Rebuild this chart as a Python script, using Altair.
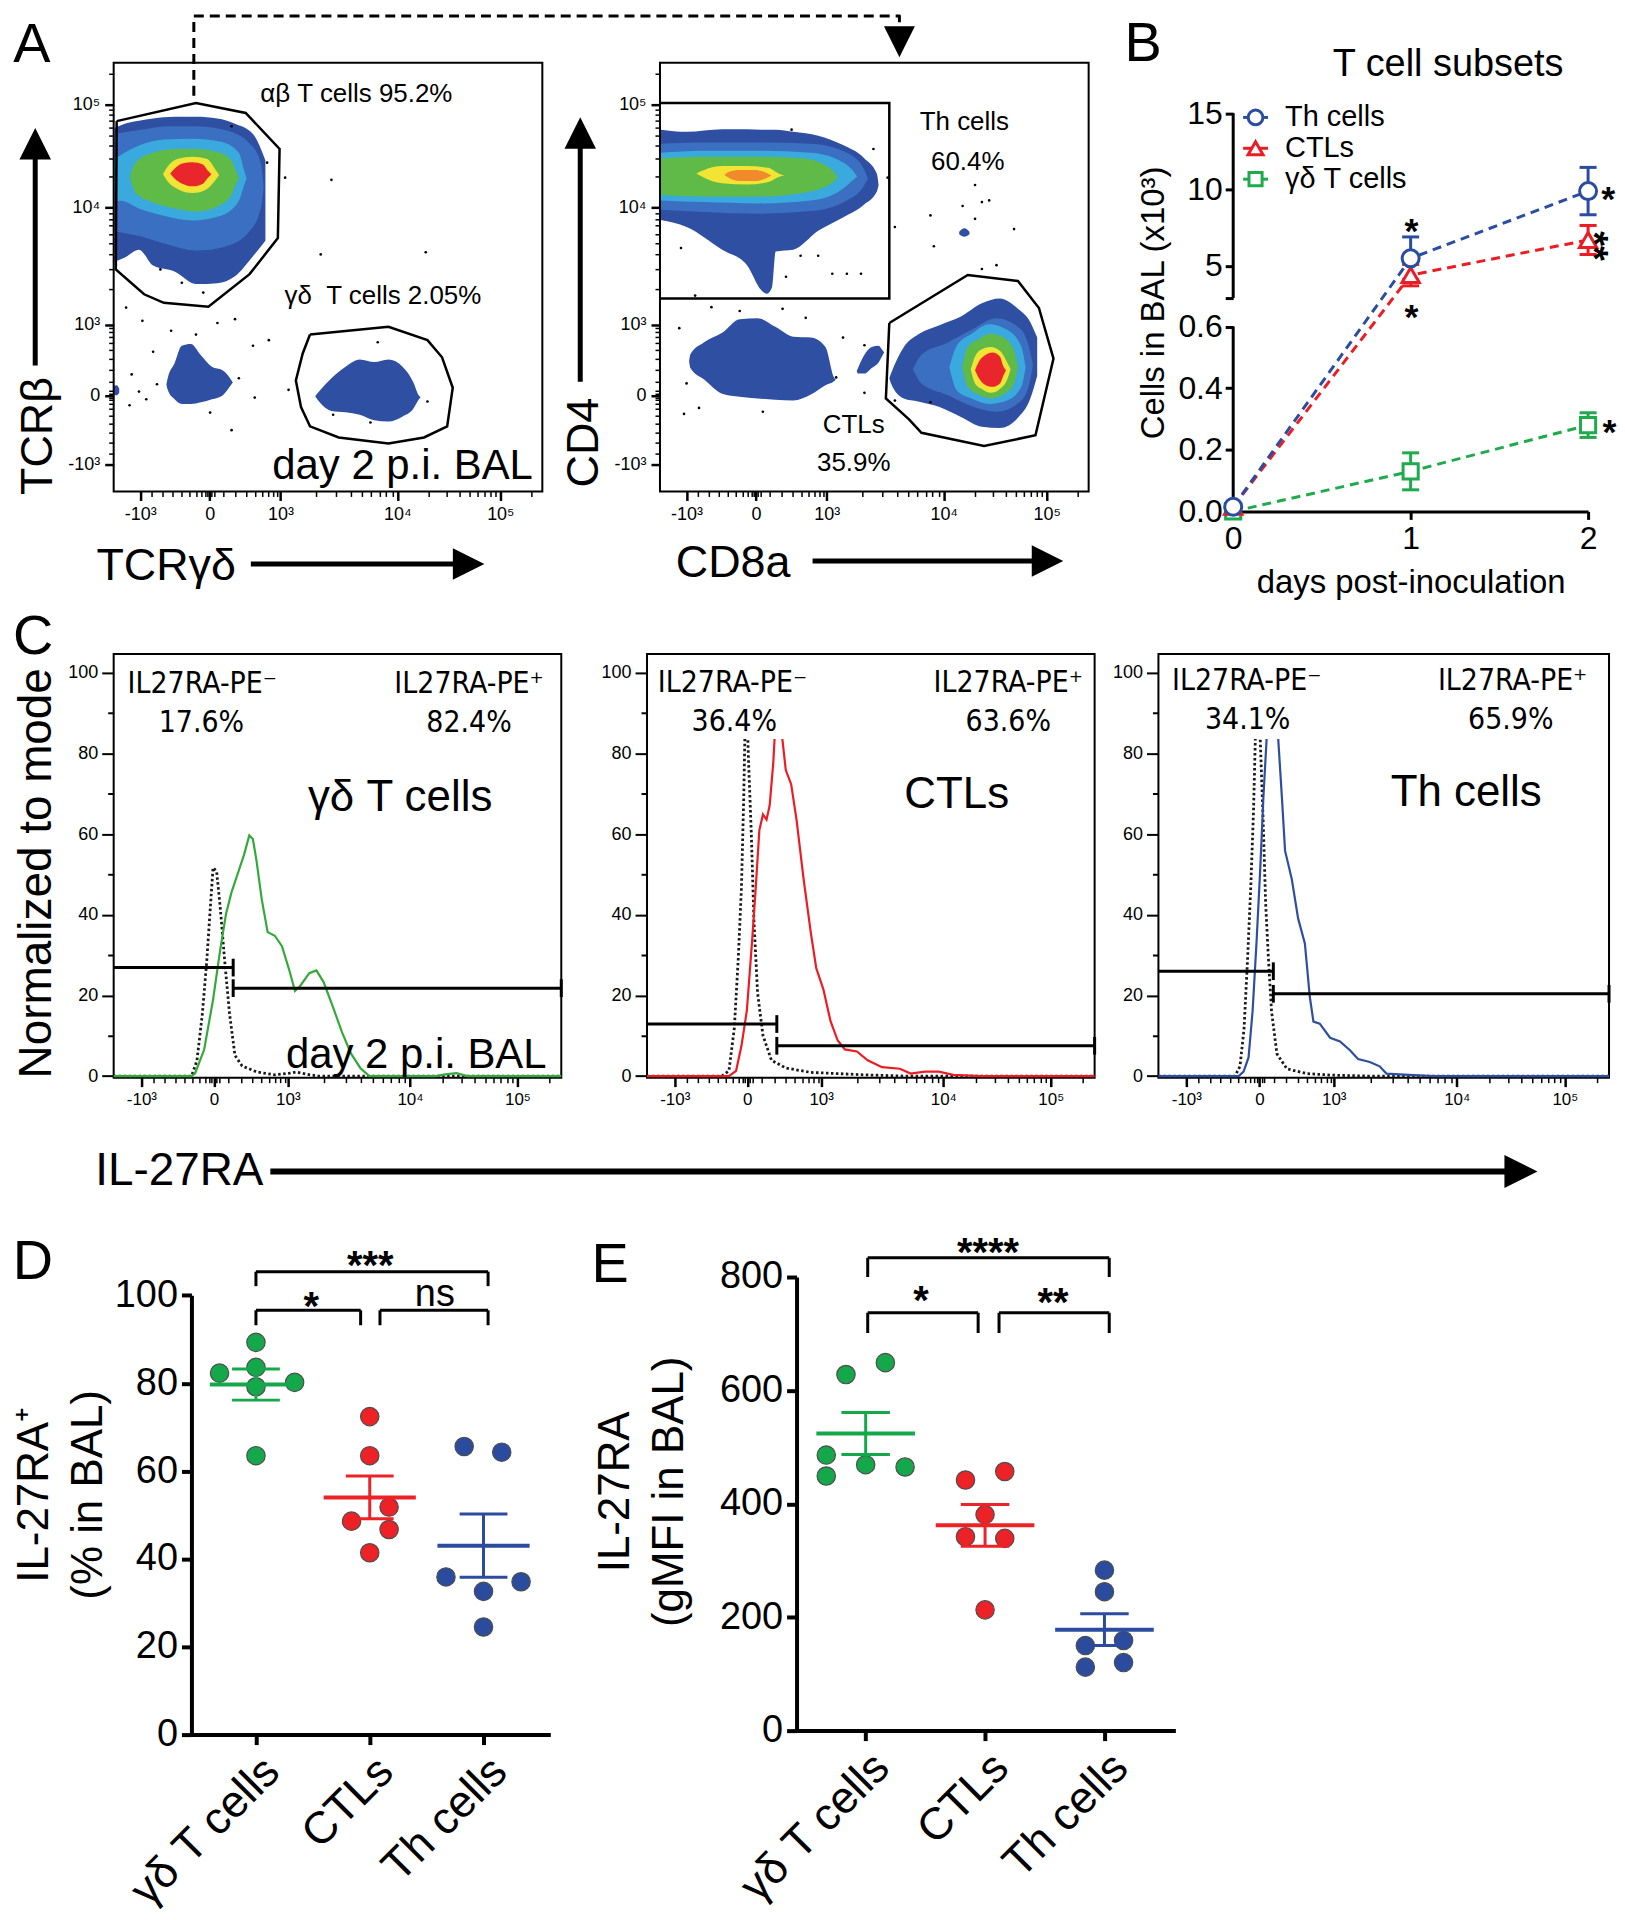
import altair as alt
import pandas as pd

FONT = "Liberation Sans"
NARROW = "Liberation Sans Narrow, DejaVu Sans Condensed, Liberation Sans"

# ======================= DATA =======================
# ---- biexponential flow axis, display scale = % of axis length ----
FLOW_MAJOR = [6.2, 22.4, 38.9, 66.2, 90.2]
FLOW_LABELS = ["-10³", "0", "10³", "10⁴", "10⁵"]
FLOW_MINOR = [8.8, 11.4, 13.8, 15.9, 17.7, 19.2, 20.4, 21.3, 21.9, 22.9, 23.5, 25.6,
              28.4, 30.9, 33.0, 34.7, 36.1, 37.3, 38.2, 47.1, 51.9, 55.3, 58.0, 60.1,
              62.0, 63.6, 65.0, 73.4, 77.7, 80.6, 83.0, 84.9, 86.5, 87.9, 89.1, 97.4]
DENS_COLORS = ["#2f4fa3", "#3b6fc1", "#3aa9dd", "#5fba47", "#f2e434", "#e8262b"]
TH_CORE = "#f08a2a"

# ---- Panel A1: TCRgd (x) vs TCRb (y); density levels (x, upper, lower) ----
A1_AB1_X = [0.2, 2.6, 5.9, 9.2, 14.2, 19.2, 24.2, 28.3, 32.5, 35.4]
A1_AB1_T = [84.8, 85.8, 86.5, 87.0, 87.4, 87.4, 87.0, 85.8, 83.4, 77.2]
A1_AB1_B = [53.6, 54.6, 56.4, 52.7, 51.3, 48.4, 48.6, 50.2, 54.9, 58.5]
A1_AB2_X = [0.2, 5.9, 12.6, 19.2, 25.9, 31.7, 34.3, 35.0]
A1_AB2_T = [83.4, 84.3, 85.2, 85.2, 84.3, 81.2, 76.7, 71.0]
A1_AB2_B = [60.7, 59.6, 57.6, 56.2, 57.1, 60.7, 66.0, 71.0]
A1_AB3_X = [0.2, 1.7, 5.9, 11.7, 18.4, 25.0, 29.2, 30.4, 31.0]
A1_AB3_T = [77.5, 78.5, 80.7, 82.1, 82.3, 81.6, 79.0, 75.0, 73.0]
A1_AB3_B = [67.5, 67.8, 66.0, 64.3, 63.2, 64.3, 67.8, 71.4, 73.0]
A1_AB4_X = [3.8, 5.1, 9.2, 14.2, 19.2, 24.2, 27.5, 28.8, 29.3]
A1_AB4_T = [73.5, 76.7, 79.0, 79.9, 79.9, 79.2, 77.2, 74.1, 73.0]
A1_AB4_B = [73.5, 69.6, 67.4, 66.0, 65.3, 66.5, 69.2, 72.3, 73.0]
A1_AB5_X = [11.5, 12.6, 15.0, 18.4, 21.7, 23.8, 24.6]
A1_AB5_T = [74.0, 75.8, 77.6, 78.1, 77.6, 75.0, 73.8]
A1_AB5_B = [74.0, 72.3, 70.5, 69.6, 70.5, 72.7, 73.8]
A1_AB6_X = [13.2, 14.2, 16.0, 18.4, 20.8, 22.0, 22.8]
A1_AB6_T = [74.2, 75.3, 76.5, 76.8, 76.3, 74.8, 74.0]
A1_AB6_B = [74.2, 73.0, 71.8, 71.2, 71.8, 73.2, 74.0]
A1_GD_X = [47.0, 47.9, 50.8, 54.1, 57.4, 60.8, 64.1, 67.4, 69.9, 71.2, 71.6]
A1_GD_T = [22.2, 23.3, 26.4, 29.1, 30.8, 30.2, 30.8, 29.1, 25.5, 22.4, 22.0]
A1_GD_B = [22.2, 21.0, 18.8, 18.5, 17.9, 16.6, 16.3, 17.5, 19.3, 21.5, 22.0]
A1_DN_X = [12.3, 12.6, 14.2, 15.9, 18.0, 20.4, 22.9, 25.4, 27.5, 27.8]
A1_DN_T = [25.0, 26.4, 29.9, 34.0, 34.4, 31.7, 29.1, 28.3, 25.9, 25.4]
A1_DN_B = [25.0, 23.7, 21.5, 20.4, 20.4, 20.8, 21.5, 22.4, 25.0, 25.4]
A1_EDGE_X = [0.0, 0.7, 1.3]
A1_EDGE_T = [24.6, 24.8, 24.0]
A1_EDGE_B = [22.6, 22.4, 23.0]
A1_GATE_AB = [(0.7, 86.4), (19.2, 90.6), (30.8, 88.3), (38.7, 79.9), (38.3, 59.1), (31.7, 50.7),
              (22.1, 43.1), (11.7, 44.0), (7.1, 46.0), (0.5, 51.8), (0.7, 86.4)]
A1_GATE_GD = [(45.8, 36.6), (64.1, 38.4), (73.2, 35.3), (76.6, 31.3), (79.1, 24.2), (77.8, 15.2),
              (72.4, 12.6), (64.1, 11.2), (52.5, 12.6), (45.8, 15.2), (43.7, 19.7), (42.5, 25.9),
              (44.1, 32.2), (45.8, 36.6)]
A1_DOT_X = [27.5, 40.0, 50.8, 48.3, 72.8, 2.9, 6.7, 9.2, 4.2, 5.9, 3.7, 7.6, 13.4, 19.2, 24.2, 28.3,
            32.5, 36.2, 29.2, 32.9, 40.8, 27.5, 22.5, 10.1, 61.6, 73.2, 51.2, 59.9, 20.9, 15.9, 10.9, 35.8]
A1_DOT_Y = [85.2, 73.2, 72.7, 55.3, 55.8, 42.9, 39.8, 32.6, 27.3, 23.3, 20.1, 21.5, 37.5, 36.6, 39.3, 40.2,
            34.0, 35.3, 26.4, 21.9, 23.7, 14.3, 18.4, 25.0, 34.8, 21.0, 17.9, 16.1, 46.4, 48.7, 51.8, 76.7]
A1_TXT = ["αβ T cells 95.2%", "γδ\u00a0 T cells 2.05%"]
A1_TXT_X = [56.6, 62.8]
A1_TXT_Y = [92.8, 45.5]

# ---- Panel A2: CD8a (x) vs CD4 (y) ----
A2_TH1_X = [0.2, 6.2, 14.5, 20.3, 23.6, 24.9, 26.1, 27.0, 31.1, 36.9, 42.7, 47.7, 50.6, 51.0]
A2_TH1_T = [84.4, 83.9, 84.5, 84.5, 84.4, 84.4, 84.4, 84.4, 83.9, 83.0, 80.8, 77.7, 74.1, 71.5]
A2_TH1_B = [63.3, 61.7, 56.4, 52.8, 47.0, 46.1, 47.5, 56.0, 56.4, 60.8, 63.9, 67.0, 70.0, 71.5]
A2_TH2_X = [0.2, 10.3, 22.8, 35.2, 43.6, 47.7, 48.5]
A2_TH2_T = [81.1, 81.4, 81.4, 81.1, 79.0, 75.0, 73.0]
A2_TH2_B = [65.7, 65.2, 64.8, 65.4, 67.9, 71.5, 73.0]
A2_TH3_X = [0.2, 10.3, 22.8, 35.2, 41.9, 45.2, 46.0]
A2_TH3_T = [79.0, 79.5, 79.5, 79.0, 77.2, 74.6, 73.5]
A2_TH3_B = [67.9, 67.5, 67.2, 67.9, 70.1, 72.8, 73.5]
A2_TH4_X = [0.2, 10.3, 22.8, 33.6, 40.2, 41.5]
A2_TH4_T = [77.7, 78.1, 78.1, 77.7, 75.0, 73.3]
A2_TH4_B = [69.2, 68.8, 68.8, 69.7, 72.0, 73.3]
A2_TH5_X = [8.5, 10.3, 14.5, 20.3, 25.3, 27.8, 29.0]
A2_TH5_T = [74.2, 75.0, 75.9, 75.9, 75.5, 74.1, 73.7]
A2_TH5_B = [74.2, 73.2, 71.9, 71.6, 72.2, 73.4, 73.7]
A2_TH6_X = [15.0, 16.1, 18.6, 21.9, 24.9, 26.0]
A2_TH6_T = [73.8, 74.6, 75.0, 75.0, 74.3, 73.7]
A2_TH6_B = [73.8, 73.1, 72.4, 72.4, 73.1, 73.7]
A2_DN_X = [6.8, 7.1, 10.3, 14.5, 18.6, 22.8, 26.9, 31.1, 35.2, 38.6, 40.6, 41.0]
A2_DN_T = [30.4, 32.0, 34.8, 37.0, 40.2, 40.4, 38.4, 36.1, 35.9, 33.7, 26.6, 26.1]
A2_DN_B = [30.4, 28.8, 26.1, 22.8, 22.1, 21.7, 21.4, 21.2, 22.6, 24.8, 25.7, 26.1]
A2_SM_X = [45.9, 46.2, 47.7, 49.4, 51.0, 52.0, 52.3]
A2_SM_T = [28.1, 28.8, 31.9, 33.7, 34.0, 32.8, 32.4]
A2_SM_B = [28.1, 27.5, 27.5, 28.8, 30.1, 31.9, 32.4]
A2_TINY_X = [69.8, 71.0, 72.2]
A2_TINY_T = [60.6, 61.4, 60.6]
A2_TINY_B = [60.0, 59.4, 60.0]
A2_CTL1_X = [53.5, 53.9, 56.9, 60.2, 65.2, 70.2, 75.1, 79.3, 83.5, 86.4, 88.0]
A2_CTL1_T = [26.4, 27.5, 33.7, 36.6, 38.8, 40.8, 43.9, 45.0, 42.6, 39.5, 35.9]
A2_CTL1_B = [26.4, 25.2, 21.7, 21.0, 19.7, 17.4, 15.1, 14.8, 17.2, 21.7, 27.0]
A2_CTL2_X = [59.0, 61.0, 66.8, 72.7, 78.5, 84.3, 86.4, 87.0]
A2_CTL2_T = [28.5, 31.9, 34.6, 37.7, 40.4, 37.7, 32.4, 29.5]
A2_CTL2_B = [28.5, 25.2, 22.6, 19.9, 18.6, 21.2, 26.1, 29.5]
A2_CTL3_X = [67.5, 69.3, 72.7, 76.8, 81.0, 84.3, 85.3]
A2_CTL3_T = [29.0, 34.1, 36.8, 39.0, 37.7, 33.7, 29.0]
A2_CTL3_B = [29.0, 23.5, 21.7, 20.4, 21.2, 24.4, 29.0]
A2_CTL4_X = [70.5, 71.8, 74.3, 77.2, 80.1, 82.6, 83.5]
A2_CTL4_T = [29.0, 33.7, 35.5, 36.8, 35.9, 32.8, 29.0]
A2_CTL4_B = [29.0, 24.4, 22.6, 21.7, 22.6, 25.2, 29.0]
A2_CTL5_X = [72.5, 73.5, 75.1, 77.2, 79.3, 81.0, 81.8]
A2_CTL5_T = [28.5, 31.5, 33.2, 33.7, 32.8, 30.1, 28.5]
A2_CTL5_B = [28.5, 25.2, 23.9, 23.0, 23.9, 26.1, 28.5]
A2_CTL6_X = [73.5, 74.3, 76.0, 77.6, 79.3, 80.1, 80.7]
A2_CTL6_T = [28.3, 30.1, 31.9, 32.4, 31.5, 29.2, 28.3]
A2_CTL6_B = [28.3, 26.6, 24.8, 24.4, 25.2, 27.0, 28.3]
A2_GATE_TH = [(0.0, 90.6), (53.5, 90.6), (53.5, 45.0), (0.0, 45.0)]
A2_GATE_CTL = [(53.5, 39.3), (71.8, 50.5), (83.5, 49.1), (88.4, 42.8), (91.8, 31.0), (87.6, 13.1),
               (75.6, 10.6), (61.0, 13.7), (58.1, 16.8), (52.7, 21.7), (53.5, 39.3)]
A2_DOT_X = [30.7, 49.8, 53.1, 73.5, 75.1, 76.8, 70.6, 73.5, 63.1, 82.6, 63.9, 54.8, 75.1, 78.5, 32.8,
            36.9, 29.4, 40.2, 43.6, 46.9, 4.9, 8.2, 4.5, 6.2, 5.6, 9.1, 12.0, 18.6, 28.6, 34.0, 42.7,
            47.7, 41.1, 47.7, 63.1, 54.8, 24.0]
A2_DOT_Y = [84.4, 79.9, 73.2, 71.5, 67.5, 67.9, 66.6, 63.6, 64.4, 61.2, 57.2, 61.7, 51.9, 52.8, 55.0,
            55.0, 50.1, 50.8, 50.8, 50.8, 56.8, 45.7, 38.1, 25.2, 18.1, 19.5, 43.0, 42.1, 42.6, 40.5,
            35.9, 34.1, 26.6, 23.0, 20.8, 21.2, 18.6]
A2_TXT = ["Th cells", "60.4%", "CTLs", "35.9%"]
A2_TXT_X = [71.0, 71.8, 45.2, 45.2]
A2_TXT_Y = [86.1, 76.8, 15.5, 6.6]

# ---- Panel B: cells in BAL (x10^3) ----
B_DAYS = [0, 1, 2]
B_SERIES = ["γδ T cells", "CTLs", "Th cells"]
B_COLORS = ["#1faa4b", "#ec1c24", "#2a4da1"]
B_SHAPES = ["square", "triangle-up", "circle"]
B_SIZES = [230, 300, 290]
B_MEAN = [[0.0, 0.13, 0.28], [0.015, 4.4, 6.7], [0.015, 5.5, 9.9]]
B_SEM = [[0.0, 0.06, 0.04], [0.0, 0.7, 0.95], [0.0, 1.4, 1.55]]
B_STAR_X = [1.005, 1.005, 2.113, 2.12]
B_STAR_Y = [7.85, 2.07, 9.96, 0.288]
B_STAR2_X = [2.08]
B_STAR2_Y = [6.3]
B_LEG_ORDER = ["Th cells", "CTLs", "γδ T cells"]
B_LEG_Y = [14.72, 12.7, 10.68]

# ---- Panel C: IL-27RA histograms (x: display %, y: % of mode) ----
C1_X = [0, 17.4, 18.2, 20.2, 22.2, 23.8, 25.1, 26.3, 27.9, 29.1, 30.3, 31.1, 31.9, 33.1, 34.4, 36.0,
        37.6, 39.3, 40.5, 41.7, 43.7, 45.3, 46.9, 49.0, 51.0, 53.0, 55.1, 57.1, 72.0, 74.1, 76.6, 79.0, 100]
C1_Y = [0, 0, 0.7, 6.5, 18.9, 31.3, 40.2, 45.5, 50.8, 54.8, 59.7, 58.8, 53.5, 43.7, 35.7, 34.8,
        32.2, 26.0, 21.1, 22.4, 25.5, 26.2, 23.3, 17.1, 10.9, 5.6, 2.0, 0, 0, 0.4, 0.7, 0, 0]
C1_ISO_X = [0, 17.4, 18.6, 19.8, 20.8, 21.6, 22.2, 23.0, 23.8, 24.8, 25.9, 27.1, 28.7, 32.0, 36.0,
            39.3, 40.9, 43.3, 45.7, 100]
C1_ISO_Y = [0, 0, 3.8, 15.3, 28.6, 41.9, 51.7, 50.8, 41.9, 28.6, 15.3, 5.1, 2.5, 1.0, 0.3,
            0.7, 1.0, 0.4, 0, 0]
C2_X = [0, 18.3, 19.9, 21.1, 22.3, 23.5, 24.3, 25.1, 25.9, 26.7, 27.4, 28.2, 29.2, 30.0, 31.0, 32.2,
        33.4, 35.0, 36.6, 37.8, 39.4, 41.0, 42.6, 44.2, 46.9, 49.3, 52.5, 56.5, 58.9, 62.1, 65.2, 68.4, 74.8, 100]
C2_Y = [0, 0, 1.3, 7.5, 16.2, 33.8, 46.9, 61.0, 64.9, 63.6, 67.1, 77.6, 98, 86, 75.9, 72.4,
        63.6, 48.7, 35.5, 26.8, 21.5, 13.6, 8.8, 6.6, 6.1, 3.9, 2.2, 1.8, 0.6, 1.1, 1.1, 0.3, 0, 0]
C2_ISO_X = [0, 16.7, 18.3, 19.5, 20.4, 21.1, 21.6, 22.1, 22.7, 23.3, 23.9, 24.7, 25.9, 27.8, 31.0,
            36.6, 48.5, 57.3, 100]
C2_ISO_Y = [0, 0, 1.3, 11.8, 29.4, 46.9, 68.9, 98, 77.6, 60.1, 38.2, 20.6, 10.1, 3.9, 2.0,
            0.9, 0.3, 0, 0]
C3_X = [0, 17.8, 18.9, 20.0, 20.9, 21.8, 22.6, 23.3, 24.0, 24.8, 25.8, 26.6, 27.4, 28.1, 29.6, 31.0,
        32.5, 33.6, 34.4, 35.8, 38.1, 40.3, 42.5, 44.3, 46.9, 49.1, 50.6, 53.5, 60.9, 100]
C3_Y = [0, 0, 1.1, 4.6, 16.1, 33.8, 51.5, 69.2, 83.4, 100, 92, 83.4, 69.2, 55.9, 48.8, 39.1,
        32.9, 19.6, 13.5, 13.0, 9.5, 8.6, 6.4, 4.2, 3.5, 2.4, 0.6, 0.4, 0, 0]
C3_ISO_X = [0, 17.0, 18.1, 19.0, 19.8, 20.5, 21.1, 21.5, 22.0, 22.6, 23.2, 23.8, 24.4, 25.1, 26.3,
            28.5, 32.9, 38.8, 46.2, 100]
C3_ISO_Y = [0, 0, 2.4, 11.7, 29.4, 47.1, 65.7, 83.4, 100, 83.4, 64.8, 42.7, 29.4, 16.1, 5.5,
            1.8, 0.6, 0.2, 0, 0]
C_COLORS = ["#34a83a", "#ec1c24", "#2e4fa0"]
C_GATE_SPLIT = [26.7, 29.0, 25.5]
C_GATE_NEG_Y = [26.9, 12.9, 26.0]
C_GATE_POS_Y = [21.8, 7.5, 20.4]
C_NEG_PCT = ["17.6%", "36.4%", "34.1%"]
C_POS_PCT = ["82.4%", "63.6%", "65.9%"]
C_LBL_X = [[19.8, 19.6, 79.4, 79.4], [19.1, 19.5, 80.7, 80.7], [19.6, 19.8, 78.6, 78.2]]
C_LBL_Y = [[97.3, 87.6, 97.3, 87.6], [97.4, 87.7, 97.4, 87.7], [97.9, 88.2, 97.9, 88.2]]
C_NAMES = ["γδ T cells", "CTLs", "Th cells"]
C_NAME_X = [64.0, 69.2, 68.3]
C_NAME_Y = [69.0, 69.7, 70.1]
C_BOX = [None, (8, 33, 83.6, 103), (8, 30, 83.6, 103)]

# ---- Panels D and E ----
GROUPS = ["γδ T cells", "CTLs", "Th cells"]
DOT_COLORS = ["#14a84a", "#ec2227", "#2b4c9e"]
D_OFF = [[0.0, -0.32, 0.0, 0.34, 0.0, 0.0], [0.0, 0.0, 0.17, -0.16, 0.17, 0.0],
         [-0.17, 0.16, -0.33, 0.33, 0.0, 0.0]]
D_VAL = [[89.3, 82.3, 83.6, 80.2, 79.2, 63.5], [72.4, 63.5, 51.8, 48.6, 46.7, 41.4],
         [65.6, 64.3, 35.9, 34.8, 32.6, 24.5]]
D_MEAN = [79.7, 54.0, 43.0]
D_SEM = [3.55, 4.85, 7.2]
D_BR_X1 = [0.0, 0.0, 1.09]
D_BR_X2 = [2.04, 0.92, 2.04]
D_BR_TOP = [105.4, 96.6, 96.6]
D_BR_LEG = [102.1, 93.2, 93.2]
D_SIG = ["***", "*", "ns"]
D_SIG_X = [1.005, 0.486, 1.572]
D_SIG_Y = [108.9, 99.5, 100.0]

E_OFF = [[-0.165, 0.165, -0.33, 0.0, 0.33, -0.33], [-0.164, 0.165, 0.0, -0.164, 0.165, 0.0],
         [0.0, 0.0, -0.16, 0.16, -0.16, 0.16]]
E_VAL = [[628, 649, 486, 469, 465, 449], [442, 457, 381, 342, 339, 213],
         [283, 245, 150, 159, 112, 120]]
E_MEAN = [524, 362, 178]
E_SEM = [37, 37, 28]
E_BR_X1 = [0.017, 0.017, 1.117]
E_BR_X2 = [2.04, 0.942, 2.04]
E_BR_TOP = [833.9, 737.0, 737.0]
E_BR_LEG = [800.0, 701.3, 701.3]
E_SIG = ["****", "*", "**"]
E_SIG_X = [1.025, 0.463, 1.570]
E_SIG_Y = [860.5, 775.7, 771.6]

# ======================= HELPERS =======================
UP = "M-1,1L1,1L0,-1Z"
DOWN = "M-1,-1L1,-1L0,1Z"
RIGHT = "M-1,-1L1,0L-1,1Z"

FLOW_TICKS = sorted(FLOW_MAJOR + FLOW_MINOR)
FLOW_EXPR = " : ".join(f"datum.value == {v} ? '{l}'" for v, l in zip(FLOW_MAJOR, FLOW_LABELS)) + " : ''"
MAJOR_TEST = "indexof([" + ",".join(str(v) for v in FLOW_MAJOR) + "], datum.value) >= 0"


def flow_axis(title=None, tx=0, ty=0, angle=0, size=45, lsize=18, offset=0):
    kw = dict(values=FLOW_TICKS, labelExpr=FLOW_EXPR,
              tickSize={"condition": {"test": MAJOR_TEST, "value": 9}, "value": 5},
              tickWidth={"condition": {"test": MAJOR_TEST, "value": 2.5}, "value": 1.5},
              domain=False, grid=False, labelFontSize=lsize, labelPadding=5, labelAngle=0,
              labelFlush=False, labelOverlap=False, offset=offset)
    if title is None:
        kw["title"] = None
    else:
        kw.update(title=title, titleFontSize=size, titleX=tx, titleY=ty, titleAngle=angle,
                  titleAlign="left", titleBaseline="alphabetic")
    return alt.Axis(**kw)


class Panel:
    def __init__(self, xs, ys, xa, ya):
        self.xs, self.ys, self.xa, self.ya = xs, ys, xa, ya
        self.layers = []

    def enc(self, xf, yf):
        return dict(x=alt.X(f"{xf}:Q", scale=self.xs, axis=self.xa),
                    y=alt.Y(f"{yf}:Q", scale=self.ys, axis=self.ya))

    def area(self, xs, ts, bs, color):
        df = pd.DataFrame({"x": xs, "t": ts, "b": bs})
        self.layers.append(alt.Chart(df).mark_area(color=color, interpolate="monotone", opacity=1)
                           .encode(**self.enc("x", "t"), y2="b:Q"))

    def poly(self, xs, ys, color="black", width=2.5, dash=None, join="miter"):
        df = pd.DataFrame({"x": xs, "y": ys, "i": list(range(len(xs)))})
        kw = dict(color=color, strokeWidth=width, strokeJoin=join)
        if dash is not None:
            kw["strokeDash"] = dash
        self.layers.append(alt.Chart(df).mark_line(**kw).encode(**self.enc("x", "y"), order="i:Q"))

    def polygon(self, pts, **kw):
        self.poly([p[0] for p in pts], [p[1] for p in pts], **kw)

    def dots(self, xs, ys, size=7, color="black"):
        df = pd.DataFrame({"x": xs, "y": ys})
        self.layers.append(alt.Chart(df).mark_circle(color=color, size=size, opacity=1)
                           .encode(**self.enc("x", "y")))

    def text(self, xs, ys, texts, size, font=FONT, weight="normal", align="center",
             baseline="middle", dy=0, color="black", angle=0):
        df = pd.DataFrame({"x": xs, "y": ys, "t": texts})
        kw = dict(fontSize=size, font=font, fontWeight=weight, align=align, baseline=baseline,
                  dy=dy, color=color)
        if angle:
            kw["angle"] = angle
        self.layers.append(alt.Chart(df).mark_text(**kw).encode(**self.enc("x", "y"), text="t:N"))

    def hrules(self, x1, x2, ys, color="black", width=3):
        df = pd.DataFrame({"x": x1, "x2": x2, "y": ys})
        self.layers.append(alt.Chart(df).mark_rule(color=color, strokeWidth=width)
                           .encode(**self.enc("x", "y"), x2="x2:Q"))

    def vrules(self, xs, y1, y2, color="black", width=3):
        df = pd.DataFrame({"x": xs, "y": y1, "y2": y2})
        self.layers.append(alt.Chart(df).mark_rule(color=color, strokeWidth=width)
                           .encode(**self.enc("x", "y"), y2="y2:Q"))

    def symbols(self, xs, ys, shape, size, fill="black", stroke="black", sw=0.0):
        df = pd.DataFrame({"x": xs, "y": ys})
        self.layers.append(alt.Chart(df).mark_point(shape=shape, size=size, filled=True, fill=fill,
                                                    stroke=stroke, strokeWidth=sw, opacity=1)
                           .encode(**self.enc("x", "y")))

    def rects(self, x1, x2, y1, y2, fill="white"):
        df = pd.DataFrame({"x": x1, "x2": x2, "y": y1, "y2": y2})
        self.layers.append(alt.Chart(df).mark_rect(fill=fill, opacity=1)
                           .encode(**self.enc("x", "y"), x2="x2:Q", y2="y2:Q"))

    def frame(self, x1, x2, y1, y2, width=2):
        df = pd.DataFrame({"x": [x1], "x2": [x2], "y": [y1], "y2": [y2]})
        self.layers.append(alt.Chart(df).mark_rect(fillOpacity=0, stroke="black", strokeWidth=width)
                           .encode(**self.enc("x", "y"), x2="x2:Q", y2="y2:Q"))

    def chart(self, w, h, frame=False):
        c = alt.layer(*self.layers).properties(width=w, height=h)
        if frame:
            c = c.properties(view=alt.ViewBackground(stroke="black", strokeWidth=2))
        return c


FY = alt.Scale(domain=[0, 100], nice=False, zero=False)

# column grid (page x): col1 111-560, col3 646-1095, col5 1159-1611
# ======================= PANEL A1 =======================
A1 = Panel(alt.Scale(domain=[0, 100], range=[0, 430], nice=False, zero=False), FY,
           flow_axis("TCRγδ", -17.8, 88, 0), flow_axis("TCRβ", -62.7, 433, 270))
for xs, ts, bs, col in [
    (A1_AB1_X, A1_AB1_T, A1_AB1_B, DENS_COLORS[0]), (A1_AB2_X, A1_AB2_T, A1_AB2_B, DENS_COLORS[1]),
    (A1_AB3_X, A1_AB3_T, A1_AB3_B, DENS_COLORS[2]), (A1_AB4_X, A1_AB4_T, A1_AB4_B, DENS_COLORS[3]),
    (A1_AB5_X, A1_AB5_T, A1_AB5_B, DENS_COLORS[4]), (A1_AB6_X, A1_AB6_T, A1_AB6_B, DENS_COLORS[5]),
    (A1_GD_X, A1_GD_T, A1_GD_B, DENS_COLORS[0]), (A1_DN_X, A1_DN_T, A1_DN_B, DENS_COLORS[0]),
    (A1_EDGE_X, A1_EDGE_T, A1_EDGE_B, DENS_COLORS[0])]:
    A1.area(xs, ts, bs, col)
A1.dots(A1_DOT_X, A1_DOT_Y)
A1.polygon(A1_GATE_AB)
A1.polygon(A1_GATE_GD)
A1.frame(0, 100, 0, 100)
A1.text(A1_TXT_X, A1_TXT_Y, A1_TXT, 26)
A1.text([67.4], [5.9], ["day 2 p.i. BAL"], 42)
A1.vrules([-18.3], [29.4], [81.1], width=5)
A1.symbols([-18.3], [81.1], UP, 1000)
A1.hrules([32.0], [82.8], [-16.9], width=5)
A1.symbols([82.8], [-16.9], RIGHT, 1000)
A1.poly([18.7, 18.7, 183.3, 183.3], [92.3, 110.9, 110.9, 108.7], width=3, dash=[10, 6], join="round")
A1.symbols([183.3], [104.9], DOWN, 960)
A1.text([-19.1], [110.5], ["A"], 56, baseline="top")
chartA1 = A1.chart(449, 430)

# ======================= PANEL A2 =======================
A2 = Panel(alt.Scale(domain=[0, 100], range=[13, 443], nice=False, zero=False), FY,
           flow_axis("CD8a", 28.4, 85, 0), flow_axis("CD4", -63, 425.5, 270, offset=-13))
for xs, ts, bs, col in [
    (A2_TH1_X, A2_TH1_T, A2_TH1_B, DENS_COLORS[0]), (A2_TH2_X, A2_TH2_T, A2_TH2_B, DENS_COLORS[1]),
    (A2_TH3_X, A2_TH3_T, A2_TH3_B, DENS_COLORS[2]), (A2_TH4_X, A2_TH4_T, A2_TH4_B, DENS_COLORS[3]),
    (A2_TH5_X, A2_TH5_T, A2_TH5_B, DENS_COLORS[4]), (A2_TH6_X, A2_TH6_T, A2_TH6_B, TH_CORE),
    (A2_DN_X, A2_DN_T, A2_DN_B, DENS_COLORS[0]), (A2_SM_X, A2_SM_T, A2_SM_B, DENS_COLORS[0]),
    (A2_TINY_X, A2_TINY_T, A2_TINY_B, DENS_COLORS[0]),
    (A2_CTL1_X, A2_CTL1_T, A2_CTL1_B, DENS_COLORS[0]), (A2_CTL2_X, A2_CTL2_T, A2_CTL2_B, DENS_COLORS[1]),
    (A2_CTL3_X, A2_CTL3_T, A2_CTL3_B, DENS_COLORS[2]), (A2_CTL4_X, A2_CTL4_T, A2_CTL4_B, DENS_COLORS[3]),
    (A2_CTL5_X, A2_CTL5_T, A2_CTL5_B, DENS_COLORS[4]), (A2_CTL6_X, A2_CTL6_T, A2_CTL6_B, DENS_COLORS[5])]:
    A2.area(xs, ts, bs, col)
A2.dots(A2_DOT_X, A2_DOT_Y)
A2.polygon(A2_GATE_TH)
A2.polygon(A2_GATE_CTL)
A2.frame(0, 100, 0, 100)
A2.text(A2_TXT_X, A2_TXT_Y, A2_TXT, 26)
A2.vrules([-18.6], [25.6], [83.6], width=5)
A2.symbols([-18.6], [83.6], UP, 1000)
A2.hrules([35.6], [90.4], [-16.2], width=5)
A2.symbols([90.4], [-16.2], RIGHT, 1000)
chartA2 = A2.chart(449, 430)

# ======================= PANEL B =======================
BX = alt.Scale(domain=[0, 2], range=[75, 431], nice=False, zero=False)
BY = alt.Scale(domain=[0, 0.6, 2.9, 15], range=[450, 264.5, 236, 50.5], nice=False, zero=False)
BXAX = alt.Axis(values=[0, 1, 2], labelExpr="format(datum.value, 'd')", offset=20, domainWidth=3,
                tickWidth=3, tickSize=8, labelFontSize=32, labelPadding=4, labelFlush=False,
                labelOverlap=False, title="days post-inoculation", titleFontSize=33, titleY=81,
                titleBaseline="alphabetic")
BYAX = alt.Axis(values=[0, 0.2, 0.4, 0.6, 2.9, 5, 10, 15],
                labelExpr="datum.value == 2.9 ? '' : (datum.value < 1 ? format(datum.value, '.1f') : format(datum.value, 'd'))",
                domain=False, tickSize=8, tickWidth=3, labelFontSize=32, labelPadding=3,
                labelFlush=False, labelOverlap=False, offset=-75,
                title="Cells in BAL (x10³)", titleFontSize=33, titleX=-70.4, titleY=240.4,
                titleAngle=270, titleAlign="center", titleBaseline="alphabetic")
PB = Panel(BX, BY, BXAX, BYAX)
PB.vrules([0, 0], [0, 2.9], [0.6, 15], width=3)
for s in range(3):
    PB.poly(B_DAYS, B_MEAN[s], color=B_COLORS[s], width=3, dash=[9, 6], join="round")
for s in range(3):
    lo = [m - e for m, e in zip(B_MEAN[s][1:], B_SEM[s][1:])]
    hi = [m + e for m, e in zip(B_MEAN[s][1:], B_SEM[s][1:])]
    PB.vrules(B_DAYS[1:], lo, hi, color=B_COLORS[s], width=3)
    PB.hrules([d - 0.048 for d in B_DAYS[1:]], [d + 0.048 for d in B_DAYS[1:]], lo, color=B_COLORS[s], width=3)
    PB.hrules([d - 0.048 for d in B_DAYS[1:]], [d + 0.048 for d in B_DAYS[1:]], hi, color=B_COLORS[s], width=3)
for s in range(3):
    PB.symbols(B_DAYS, B_MEAN[s], B_SHAPES[s], B_SIZES[s], fill="white", stroke=B_COLORS[s], sw=3)
PB.text(B_STAR_X, B_STAR_Y, ["*"] * len(B_STAR_X), 36, weight="bold", dy=10)
PB.text(B_STAR2_X, B_STAR2_Y, ["**"], 38, weight="bold", dy=10.8, angle=90)
for name, ly in zip(B_LEG_ORDER, B_LEG_Y):
    s = B_SERIES.index(name)
    PB.hrules([0.056], [0.196], [ly], color=B_COLORS[s], width=3)
    PB.symbols([0.126], [ly], B_SHAPES[s], B_SIZES[s] * 0.75, fill="white", stroke=B_COLORS[s], sw=3)
PB.text([0.292] * 3, B_LEG_Y, B_LEG_ORDER, 29, align="left")
PB.text([1.211], [17.46], ["T cell subsets"], 38, baseline="alphabetic")
PB.text([-0.508], [21.29], ["B"], 56, baseline="top")
chartB = PB.chart(452, 430)

# ======================= PANELS C =======================
CX = alt.Scale(domain=[0, 100], nice=False, zero=False)
CY = alt.Scale(domain=[-0.4, 104.7], nice=False, zero=False)


def c_yaxis(title=None):
    kw = dict(values=list(range(0, 101, 10)), labelExpr="datum.value % 20 == 0 ? datum.value : ''",
              tickSize={"condition": {"test": "datum.value % 20 == 0", "value": 12}, "value": 6},
              tickWidth=2, domain=False, labelFontSize=18, labelPadding=4, labelOverlap=False)
    if title is None:
        kw["title"] = None
    else:
        kw.update(title=title, titleFontSize=46, titleX=-63.6, titleY=219.5, titleAngle=270,
                  titleAlign="center", titleBaseline="alphabetic")
    return alt.Axis(**kw)


C_CURVES = [(C1_X, C1_Y, C1_ISO_X, C1_ISO_Y), (C2_X, C2_Y, C2_ISO_X, C2_ISO_Y),
            (C3_X, C3_Y, C3_ISO_X, C3_ISO_Y)]
C_WIDTHS = [449, 449, 452]
chartsC = []
for k in range(3):
    xa = flow_axis("IL-27RA", -19, 107, 0, size=46, lsize=17) if k == 0 else flow_axis(lsize=17)
    ya = c_yaxis("Normalized to mode") if k == 0 else c_yaxis()
    P = Panel(CX, CY, xa, ya)
    cx, cy, ix, iy = C_CURVES[k]
    P.poly(ix, iy, color="#1a1a1a", width=2.8, dash=[2.5, 2.5])
    P.poly(cx, cy, color=C_COLORS[k], width=2.2)
    if C_BOX[k] is not None:
        bx = C_BOX[k]
        P.rects([bx[0]], [bx[1]], [bx[2]], [bx[3]])
    sp = C_GATE_SPLIT[k]
    P.hrules([0], [sp], [C_GATE_NEG_Y[k]], width=3)
    P.vrules([sp], [C_GATE_NEG_Y[k] - 2.2], [C_GATE_NEG_Y[k] + 2.2], width=3)
    P.hrules([sp], [100], [C_GATE_POS_Y[k]], width=3)
    P.vrules([sp, 100], [C_GATE_POS_Y[k] - 2.2] * 2, [C_GATE_POS_Y[k] + 2.2] * 2, width=3)
    P.text(C_LBL_X[k], C_LBL_Y[k], ["IL27RA-PE⁻", C_NEG_PCT[k], "IL27RA-PE⁺", C_POS_PCT[k]], 30, font=NARROW)
    P.text([C_NAME_X[k]], [C_NAME_Y[k]], [C_NAMES[k]], 44)
    if k == 0:
        P.text([67.6], [5.1], ["day 2 p.i. BAL"], 42)
        P.hrules([35.0], [314.4], [-23.7], width=6)
        P.symbols([314.4], [-23.7], RIGHT, 1100)
        P.text([-18.0], [104.6], ["C"], 56, baseline="alphabetic")
    chartsC.append(P.chart(C_WIDTHS[k], 425, frame=True))


# ======================= PANELS D, E =======================
def dot_panel(xdom, xrange, ydom, yrange, yvals, title, tx, ty, offs, vals, means, sems, half, cap,
              brx1, brx2, brtop, brleg, sig, sigx, sigy, letter, lx, ly, w, h):
    xs = alt.Scale(domain=xdom, range=xrange, nice=False, zero=False)
    ys = alt.Scale(domain=ydom, range=yrange, nice=False, zero=False)
    xa = alt.Axis(values=[0, 1, 2], labelExpr="['γδ T cells', 'CTLs', 'Th cells'][datum.value]",
                  labelAngle=315, labelAlign="right", labelBaseline="top", labelFontSize=45,
                  labelPadding=4, labelLimit=400, tickSize=10, tickWidth=4, domainWidth=4,
                  labelFlush=False, labelOverlap=False, title=None)
    ya = alt.Axis(values=yvals, labelFontSize=38, tickSize=10, tickWidth=4, domainWidth=4,
                  labelPadding=4, labelOverlap=False, offset=-xrange[0], title=title, titleFontSize=44,
                  titleLineHeight=54, titleX=tx, titleY=ty, titleAngle=270, titleAlign="center",
                  titleBaseline="alphabetic")
    P = Panel(xs, ys, xa, ya)
    for g in range(3):
        df = pd.DataFrame({"x": [g + o for o in offs[g]], "y": vals[g]})
        P.layers.append(alt.Chart(df).mark_circle(fill=DOT_COLORS[g], stroke="#4d4d4d", strokeWidth=1.2,
                                                  size=340, opacity=1).encode(**P.enc("x", "y")))
    for g in range(3):
        m, e = means[g], sems[g]
        P.hrules([g - half], [g + half], [m], color=DOT_COLORS[g], width=4)
        P.vrules([g], [m - e], [m + e], color=DOT_COLORS[g], width=3)
        P.hrules([g - cap, g - cap], [g + cap, g + cap], [m - e, m + e], color=DOT_COLORS[g], width=3)
    P.hrules(brx1, brx2, brtop, width=3)
    P.vrules(brx1 + brx2, brleg + brleg, brtop + brtop, width=3)
    stars = [i for i, s in enumerate(sig) if s != "ns"]
    P.text([sigx[i] for i in stars], [sigy[i] for i in stars], [sig[i] for i in stars], 40,
           weight="bold", dy=11)
    ns = [i for i, s in enumerate(sig) if s == "ns"]
    if ns:
        P.text([sigx[i] for i in ns], [sigy[i] for i in ns], [sig[i] for i in ns], 38)
    P.text([lx], [ly], [letter], 56, baseline="alphabetic")
    return P.chart(w, h)


chartD = dot_panel([-0.567, 2.587], [78, 438], [0, 100], [459, 18.4], [0, 20, 40, 60, 80, 100],
                   ["IL-27RA⁺", "(% in BAL)"], -144.6, 218, D_OFF, D_VAL, D_MEAN, D_SEM, 0.405, 0.21,
                   D_BR_X1, D_BR_X2, D_BR_TOP, D_BR_LEG, D_SIG, D_SIG_X, D_SIG_Y, "D", -1.96, 103.7, 449, 459)
chartE = dot_panel([-0.579, 2.594], [150, 530], [0, 800], [455, 0], [0, 200, 400, 600, 800],
                   ["IL-27RA", "(gMFI in BAL)"], -168.5, 215, E_OFF, E_VAL, E_MEAN, E_SEM, 0.413, 0.203,
                   E_BR_X1, E_BR_X2, E_BR_TOP, E_BR_LEG, E_SIG, E_SIG_X, E_SIG_Y, "E", -2.14, 791.9, 449, 455)


# ======================= LAYOUT =======================
def spacer(w, h):
    return alt.Chart(pd.DataFrame({"v": [0]})).mark_point(opacity=0).encode(
        x=alt.X("v:Q", axis=None), y=alt.Y("v:Q", axis=None)).properties(width=w, height=h)


cells = []
cells += [spacer(1, 52) for _ in range(6)]
cells += [spacer(103, 430), chartA1, spacer(86, 430), chartA2, spacer(64, 430), chartB]
cells += [spacer(1, 163) for _ in range(6)]
cells += [spacer(103, 425), chartsC[0], spacer(86, 425), chartsC[1], spacer(64, 425), chartsC[2]]
cells += [spacer(1, 200) for _ in range(6)]
cells += [spacer(103, 459), chartD, spacer(86, 459), chartE, spacer(64, 459), spacer(452, 459)]

chart = alt.concat(*cells, columns=6, spacing=0, bounds="flush", align="each").properties(padding=0)
chart = chart.configure_view(strokeWidth=0).configure_axis(
    grid=False, labelFont=FONT, titleFont=FONT, titleFontWeight="normal", labelColor="black",
    titleColor="black", domainColor="black", tickColor="black").configure_text(font=FONT)

chart.save("out.html", embed_options={"renderer": "svg", "actions": False})
